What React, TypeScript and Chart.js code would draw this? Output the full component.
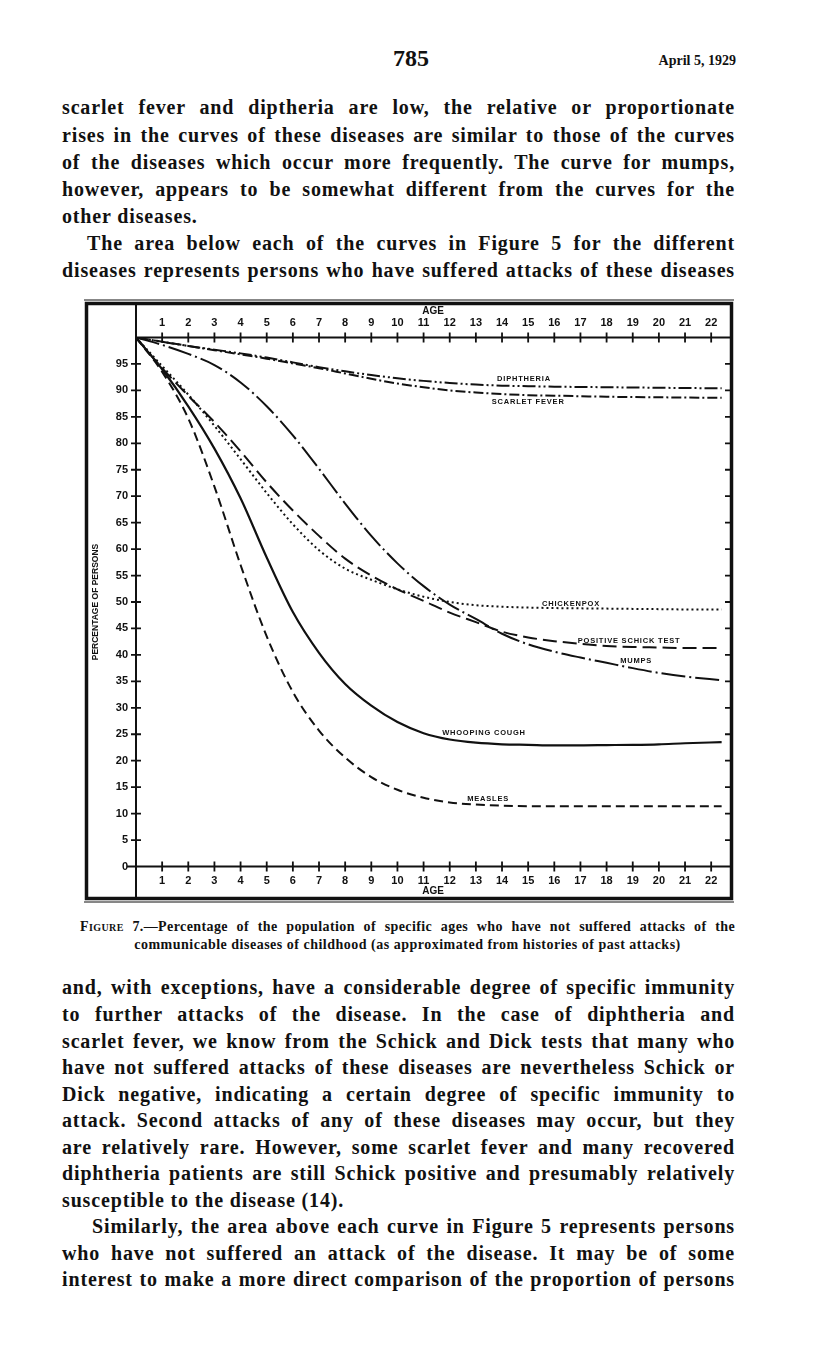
import React, { useEffect, useRef } from "react";
import { Chart, registerables } from "chart.js";

Chart.register(...registerables);

// ---------- DATA ----------
const ages = [0, 1, 2, 3, 4, 5, 6, 7, 8, 9, 10, 11, 12, 13, 14, 15, 16, 17, 18, 19, 20, 21, 22.4];

const diphtheria = [100, 99.2, 98.4, 97.7, 97.0, 96.2, 95.3, 94.4, 93.6, 92.9, 92.3, 91.8, 91.4, 91.1, 90.9, 90.8, 90.7, 90.65, 90.6, 90.55, 90.5, 90.45, 90.4];
const scarletFever = [100, 99.2, 98.4, 97.6, 96.8, 96.0, 95.1, 94.2, 93.2, 92.2, 91.3, 90.6, 90.0, 89.6, 89.3, 89.1, 89.0, 88.9, 88.8, 88.75, 88.7, 88.65, 88.6];
const mumps = [100, 98.6, 96.9, 94.8, 91.5, 87.0, 81.5, 75.2, 68.6, 62.5, 57.3, 53.0, 49.5, 46.8, 44.0, 42.0, 40.6, 39.5, 38.5, 37.5, 36.6, 35.9, 35.2];
const chickenpox = [100, 94.6, 89.2, 83.3, 77.0, 70.6, 64.7, 59.8, 56.3, 54.2, 52.4, 51.0, 50.0, 49.4, 49.1, 48.95, 48.85, 48.8, 48.75, 48.7, 48.65, 48.6, 48.6];
const positiveSchick = [100, 94.2, 89.0, 84.0, 78.5, 72.6, 67.3, 62.5, 58.2, 55.0, 52.4, 50.2, 48.0, 46.2, 44.4, 43.3, 42.6, 42.1, 41.7, 41.5, 41.4, 41.3, 41.3];
const whoopingCough = [100, 94.0, 87.0, 79.0, 69.6, 58.4, 48.1, 40.4, 34.5, 30.4, 27.3, 25.2, 24.0, 23.4, 23.1, 23.0, 22.9, 22.9, 22.95, 23.0, 23.1, 23.3, 23.5];
const measles = [100, 93.5, 84.7, 71.8, 57.0, 43.5, 33.0, 25.7, 20.6, 16.9, 14.5, 13.0, 12.1, 11.7, 11.5, 11.4, 11.4, 11.4, 11.4, 11.4, 11.4, 11.4, 11.4];

const ageTicks = [1, 2, 3, 4, 5, 6, 7, 8, 9, 10, 11, 12, 13, 14, 15, 16, 17, 18, 19, 20, 21, 22];
const percentTicks = [0, 5, 10, 15, 20, 25, 30, 35, 40, 45, 50, 55, 60, 65, 70, 75, 80, 85, 90, 95];
const rightTicks = [5, 10, 15, 20, 25, 30, 35, 40, 45, 50, 55, 60, 65, 70, 75, 80, 85, 90, 95];

const curveLabels = ["DIPHTHERIA", "SCARLET FEVER", "CHICKENPOX", "POSITIVE SCHICK TEST", "MUMPS", "WHOOPING COUGH", "MEASLES"];
const curveLabelAges = [14.84, 15.0, 16.64, 18.86, 19.13, 13.31, 13.47];
const curveLabelValues = [92.2, 87.8, 49.7, 42.7, 38.8, 25.3, 12.8];

// ---------- STYLE ----------
const INK = "#111111";
const SANS = '"Liberation Sans", Arial, sans-serif';
const SERIF = '"Liberation Serif", "Times New Roman", serif';
const X_MAX = 22.72;

const seriesDefs = [
  { name: "Diphtheria", values: diphtheria, dash: [13, 3, 2, 3, 2, 3], width: 2 },
  { name: "Scarlet fever", values: scarletFever, dash: [10, 3, 2, 3], width: 2 },
  { name: "Mumps", values: mumps, dash: [24, 4, 2, 4], width: 2 },
  { name: "Chickenpox", values: chickenpox, dash: [2, 3], width: 2 },
  { name: "Positive Schick test", values: positiveSchick, dash: [14, 6], width: 2 },
  { name: "Whooping cough", values: whoopingCough, dash: [], width: 2.2 },
  { name: "Measles", values: measles, dash: [9, 5], width: 2 },
];

const framePlugin = {
  id: "oldFrame",
  beforeDatasetsDraw(chart: any) {
    const { ctx, chartArea, scales } = chart;
    const { left, right, top, bottom } = chartArea;
    const xs = scales.x;
    const ys = scales.y;
    ctx.save();
    ctx.strokeStyle = INK;
    ctx.lineCap = "butt";
    // outer frame
    ctx.lineWidth = 3.5;
    ctx.strokeRect(6.5, 7.5, right + 1.5 - 6.5, 602.5 - 7.5);
    ctx.lineWidth = 1.2;
    ctx.beginPath();
    ctx.moveTo(4, 606);
    ctx.lineTo(right + 4, 606);
    ctx.moveTo(4, 4);
    ctx.lineTo(right + 4, 4);
    ctx.stroke();
    // axes
    ctx.lineWidth = 2;
    ctx.beginPath();
    ctx.moveTo(left, 7.5);
    ctx.lineTo(left, 602.5);
    ctx.moveTo(left, top);
    ctx.lineTo(right, top);
    ctx.moveTo(left - 9, bottom);
    ctx.lineTo(right, bottom);
    ctx.stroke();
    // crossing ticks
    ctx.lineWidth = 1.8;
    ctx.beginPath();
    for (const a of ageTicks) {
      const px = xs.getPixelForValue(a);
      ctx.moveTo(px, top - 5);
      ctx.lineTo(px, top + 5);
      ctx.moveTo(px, bottom - 5);
      ctx.lineTo(px, bottom + 5);
    }
    for (const v of percentTicks) {
      if (v === 0) continue;
      const py = ys.getPixelForValue(v);
      ctx.moveTo(left - 5, py);
      ctx.lineTo(left + 5, py);
    }
    for (const v of rightTicks) {
      const py = ys.getPixelForValue(v);
      ctx.moveTo(right - 5, py);
      ctx.lineTo(right, py);
    }
    ctx.stroke();
    ctx.restore();
  },
  afterDatasetsDraw(chart: any) {
    const { ctx, scales } = chart;
    ctx.save();
    ctx.fillStyle = INK;
    ctx.font = `bold 7.5px ${SANS}`;
    ctx.textAlign = "center";
    ctx.textBaseline = "middle";
    (ctx as any).letterSpacing = "0.8px";
    curveLabels.forEach((t, i) => {
      const px = scales.x.getPixelForValue(curveLabelAges[i]);
      const py = scales.y.getPixelForValue(curveLabelValues[i]);
      ctx.fillText(t, px, py);
    });
    ctx.restore();
  },
};

function ChartBox() {
  const ref = useRef<HTMLCanvasElement | null>(null);
  useEffect(() => {
    if (!ref.current) return;
    const tickFont = { family: SANS, size: 11, weight: "bold" as const };
    const xCommon = {
      type: "linear" as const,
      min: 0,
      max: X_MAX,
      grid: { display: false, drawTicks: false },
      border: { display: false },
      afterBuildTicks: (s: any) => {
        s.ticks = ageTicks.map((v) => ({ value: v }));
      },
      ticks: {
        font: tickFont,
        color: INK,
        padding: 8,
        maxRotation: 0,
        autoSkip: false,
        callback: (v: any) => String(v),
      },
    };
    const chart = new Chart(ref.current, {
      type: "line",
      data: {
        datasets: seriesDefs.map((s) => ({
          label: s.name,
          data: ages.map((a, i) => ({ x: a, y: s.values[i] })),
          borderColor: INK,
          borderWidth: s.width,
          borderDash: s.dash,
          pointRadius: 0,
          fill: false,
          cubicInterpolationMode: "monotone" as const,
        })),
      },
      options: {
        animation: false,
        responsive: false,
        maintainAspectRatio: false,
        layout: { padding: { left: 0, top: 0, right: 10, bottom: 0 } },
        plugins: { legend: { display: false }, tooltip: { enabled: false } },
        scales: {
          x: {
            ...xCommon,
            position: "bottom",
            afterFit: (s: any) => {
              s.height = 39.5;
            },
            title: {
              display: true,
              text: "AGE",
              color: INK,
              font: { family: SANS, size: 10, weight: "bold" },
              padding: { top: 0, bottom: 9 },
            },
          },
          xTop: {
            ...xCommon,
            position: "top",
            afterFit: (s: any) => {
              s.height = 41.5;
            },
            title: {
              display: true,
              text: "AGE",
              color: INK,
              font: { family: SANS, size: 10, weight: "bold" },
              padding: { top: 9, bottom: 0 },
            },
          },
          y: {
            type: "linear",
            position: "left",
            min: 0,
            max: 100,
            grid: { display: false, drawTicks: false },
            border: { display: false },
            afterBuildTicks: (s: any) => {
              s.ticks = percentTicks.map((v) => ({ value: v }));
            },
            afterFit: (s: any) => {
              s.width = 56;
            },
            ticks: { font: tickFont, color: INK, padding: 8 },
            title: {
              display: true,
              text: "PERCENTAGE OF PERSONS",
              color: INK,
              font: { family: SANS, size: 8.5, weight: "bold" },
              padding: { top: 11, bottom: 0 },
            },
          },
        },
      } as any,
      plugins: [framePlugin],
    });
    return () => chart.destroy();
  }, []);
  return (
    <canvas
      ref={ref}
      width={660}
      height={610}
      style={{ position: "absolute", left: 80, top: 296, width: 660, height: 610 }}
    />
  );
}

type LineProps = { y: number; text: string; indent?: number; last?: boolean };

function TextLine({ y, text, indent = 0, last = false }: LineProps) {
  return (
    <div
      style={{
        position: "absolute",
        left: 62 + indent,
        width: 673 - indent,
        top: y - 13,
        height: 26,
        lineHeight: "26px",
        fontFamily: SERIF,
        fontSize: 20,
        fontWeight: 700,
        letterSpacing: "0.85px",
        color: INK,
        textAlign: last ? "left" : "justify",
        textAlignLast: last ? "left" : "justify",
        whiteSpace: "nowrap",
        overflow: "visible",
      } as any}
    >
      {text}
    </div>
  );
}

const topLines: LineProps[] = [
  { y: 107, text: "scarlet fever and diptheria are low, the relative or proportionate" },
  { y: 135, text: "rises in the curves of these diseases are similar to those of the curves" },
  { y: 162, text: "of the diseases which occur more frequently.  The curve for mumps," },
  { y: 189, text: "however, appears to be somewhat different from the curves for the" },
  { y: 216, text: "other diseases.", last: true },
  { y: 243, text: "The area below each of the curves in Figure 5 for the different", indent: 25 },
  { y: 270, text: "diseases represents persons who have suffered attacks of these diseases" },
];

const bottomLines: LineProps[] = [
  { y: 987, text: "and, with exceptions, have a considerable degree of specific immunity" },
  { y: 1014, text: "to further attacks of the disease.  In the case of diphtheria and" },
  { y: 1041, text: "scarlet fever, we know from the Schick and Dick tests that many who" },
  { y: 1067, text: "have not suffered attacks of these diseases are nevertheless Schick or" },
  { y: 1094, text: "Dick negative, indicating a certain degree of specific immunity to" },
  { y: 1120, text: "attack.  Second attacks of any of these diseases may occur, but they" },
  { y: 1147, text: "are relatively rare.  However, some scarlet fever and many recovered" },
  { y: 1173, text: "diphtheria patients are still Schick positive and presumably relatively" },
  { y: 1200, text: "susceptible to the disease (14).", last: true },
  { y: 1226, text: "Similarly, the area above each curve in Figure 5 represents persons", indent: 30 },
  { y: 1253, text: "who have not suffered an attack of the disease.  It may be of some" },
  { y: 1279, text: "interest to make a more direct comparison of the proportion of persons" },
];

export default function App() {
  return (
    <div
      style={{
        position: "absolute",
        left: 0,
        top: 0,
        width: 816,
        height: 1351,
        background: "#ffffff",
        overflow: "hidden",
      }}
    >
      <div
        style={{
          position: "absolute",
          left: 361,
          width: 100,
          top: 44,
          textAlign: "center",
          fontFamily: SERIF,
          fontSize: 24,
          fontWeight: 700,
          color: INK,
          lineHeight: "28px",
        }}
      >
        785
      </div>
      <div
        style={{
          position: "absolute",
          right: 816 - 736,
          top: 52,
          fontFamily: SERIF,
          fontSize: 14,
          fontWeight: 700,
          color: INK,
          lineHeight: "18px",
        }}
      >
        April 5, 1929
      </div>
      {topLines.map((l, i) => (
        <TextLine key={"t" + i} {...l} />
      ))}
      <ChartBox />
      <div
        style={{
          position: "absolute",
          left: 80,
          width: 655,
          top: 918,
          fontFamily: SERIF,
          fontSize: 14,
          fontWeight: 700,
          letterSpacing: "0.4px",
          color: INK,
          lineHeight: "17px",
          textAlign: "justify",
          textAlignLast: "justify",
          whiteSpace: "nowrap",
        } as any}
      >
        <span style={{ fontVariant: "small-caps" }}>Figure</span> 7.—Percentage of the population of specific ages who have not suffered attacks of the
      </div>
      <div
        style={{
          position: "absolute",
          left: 80,
          width: 655,
          top: 936,
          fontFamily: SERIF,
          fontSize: 14,
          fontWeight: 700,
          letterSpacing: "0.5px",
          color: INK,
          lineHeight: "17px",
          textAlign: "center",
          whiteSpace: "nowrap",
        }}
      >
        communicable diseases of childhood (as approximated from histories of past attacks)
      </div>
      {bottomLines.map((l, i) => (
        <TextLine key={"b" + i} {...l} />
      ))}
    </div>
  );
}
